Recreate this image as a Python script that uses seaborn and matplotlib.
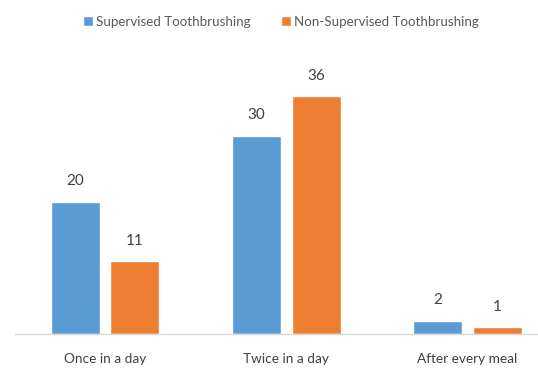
import matplotlib
matplotlib.use("Agg")
import matplotlib.pyplot as plt
import seaborn as sns
import pandas as pd

categories = ["Once in a day", "Twice in a day", "After every meal"]
groups = ["Supervised Toothbrushing", "Non-Supervised Toothbrushing"]
supervised = [20, 30, 2]
non_supervised = [11, 36, 1]
colors = ["#5B9BD5", "#ED7D31"]

df = pd.DataFrame({
    "frequency": categories * 2,
    "group": [groups[0]] * 3 + [groups[1]] * 3,
    "count": supervised + non_supervised,
})

sns.set_theme(style="white")
plt.rcParams["font.family"] = ["Lato", "DejaVu Sans"]

fig = plt.figure(figsize=(5.38, 3.69), dpi=100)
ax = fig.add_axes([14.5 / 538, 35 / 369, (538 - 14.5) / 538, 264 / 369])

sns.barplot(data=df, x="frequency", y="count", hue="group", order=categories,
            hue_order=groups, palette=colors, width=0.66, gap=0.18,
            saturation=1, errorbar=None, ax=ax, legend=True)

for cont in ax.containers:
    ax.bar_label(cont, padding=10, fontsize=11, color="#404040")

ax.set_xlim(-0.5, 2.39)
ax.set_ylim(0, 40)
ax.set_xlabel("")
ax.set_ylabel("")
ax.set_yticks([])
for s in ["top", "right", "left"]:
    ax.spines[s].set_visible(False)
ax.spines["bottom"].set_color("#D9D9D9")
ax.spines["bottom"].set_linewidth(1)
ax.tick_params(axis="x", length=0, pad=14, labelsize=9.8, labelcolor="#404040")

handles, labels = ax.get_legend_handles_labels()
ax.get_legend().remove()
fig.legend(handles, labels, loc="center", bbox_to_anchor=(0.522, 1 - 22 / 369),
           ncol=2, frameon=False, fontsize=9.6, labelcolor="#595959",
           handlelength=0.75, handleheight=0.75, handletextpad=0.25, columnspacing=2.3)

fig.savefig("out.png", dpi=100)
